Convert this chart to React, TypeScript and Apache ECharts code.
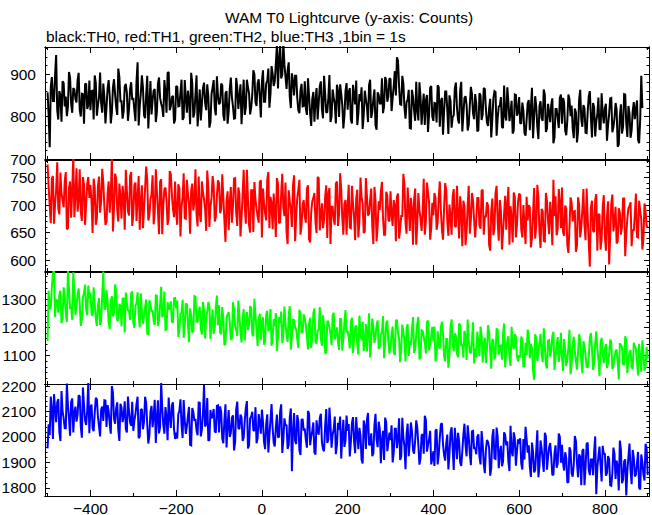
import React, { useEffect, useRef } from "react";
import * as echarts from "echarts";

const TITLE = "WAM T0 Lightcurve (y-axis: Counts)";
const SUBTITLE = "black:TH0, red:TH1, green:TH2, blue:TH3 ,1bin = 1s";

// time grid of the sampled light curves (seconds from T0): values on whole
// 5 s steps and values read half-way between them (2.5 s later)
const T_START = -500;
const BIN = 5;
const X_MIN = -506;
const X_MAX = 903;
const X_MAJOR = [-400, -200, 0, 200, 400, 600, 800];
const X_MINOR = [-500, -300, -100, 100, 300, 500, 700, 900];

const TH0 = [
  857, 728, 893, 837, 945, 793, 850, 883, 824, 801, 905, 830, 867, 842, 886, 816, 854, 783, 878, 827,
  815, 861, 897, 802, 845, 831, 878, 784, 866, 849, 809, 888, 823, 913, 836, 795, 871, 856, 818, 881,
  844, 789, 928, 824, 897, 803, 850, 772, 884, 838, 865, 810, 892, 831, 799, 858, 903, 815, 846, 784,
  872, 824, 858, 792, 886, 809, 839, 903, 798, 852, 777, 864, 830, 880, 815, 848, 787, 869, 820, 895,
  829, 878, 804, 855, 783, 864, 846, 795, 891, 818, 876, 838, 804, 887, 855, 821, 909, 834, 878, 847,
  882, 835, 878, 913, 853, 901, 883, 968, 937, 890, 975, 894, 909, 847, 902, 850, 896, 815, 862, 824,
  883, 804, 849, 778, 858, 838, 793, 871, 817, 896, 809, 844, 787, 864, 830, 875, 799, 854, 772, 860,
  816, 867, 784, 850, 885, 807, 836, 771, 861, 823, 874, 797, 842, 780, 857, 831, 890, 824, 885, 847,
  888, 844, 907, 940, 870, 828, 878, 795, 840, 773, 863, 814, 882, 791, 846, 823, 780, 851, 806, 872,
  790, 831, 874, 776, 844, 812, 859, 759, 837, 799, 866, 822, 784, 882, 805, 848, 767, 827, 853, 794,
  831, 768, 850, 805, 865, 786, 819, 751, 843, 858, 796, 825, 776, 873, 791, 835, 809, 760, 852, 802,
  846, 783, 814, 755, 831, 768, 868, 801, 823, 747, 836, 790, 852, 772, 810, 829, 737, 818, 796, 844,
  783, 834, 756, 852, 801, 772, 819, 739, 840, 794, 827, 762, 812, 860, 751, 822, 789, 845, 769, 808,
  820, 743, 806, 844, 775, 832, 729, 801, 760, 853, 783, 825, 750, 813, 794, 838, 737, 896,
];
const TH0_HALF = [
  804, 871, 837, 898, 815, 860, 788, 879, 847, 823, 892, 809, 864, 833, 903, 800, 853, 876, 818, 885,
  860, 793, 879, 827, 904, 809, 847, 822, 886, 784, 869, 853, 804, 893, 836, 813, 877, 790, 865, 839,
  815, 883, 779, 854, 869, 796, 896, 830, 805, 861, 787, 878, 844, 821, 886, 809, 905, 824, 849, 793,
  870, 825, 887, 798, 844, 861, 782, 879, 809, 897, 820, 791, 867, 832, 876, 774, 853, 886, 803, 849,
  833, 874, 790, 860, 812, 892, 824, 796, 869, 847, 782, 887, 821, 869, 805, 851, 900, 825, 888, 798,
  909, 835, 884, 821, 919, 872, 925, 866, 969, 899, 923, 865, 928, 820, 885, 896, 844, 808, 877, 825,
  819, 890, 806, 841, 788, 867, 832, 883, 796, 854, 811, 898, 800, 845, 784, 861, 876, 827, 802, 879,
  858, 793, 875, 829, 780, 853, 869, 803, 842, 787, 887, 811, 864, 769, 851, 831, 808, 893, 835, 890,
  813, 872, 850, 931, 829, 896, 821, 834, 863, 772, 846, 790, 815, 881, 781, 854, 839, 764, 868, 800,
  832, 786, 869, 836, 757, 859, 815, 850, 774, 803, 880, 792, 862, 765, 844, 827, 781, 870, 808, 853,
  765, 855, 792, 867, 818, 778, 842, 794, 860, 755, 824, 846, 773, 801, 869, 789, 837, 767, 851, 810,
  785, 833, 761, 792, 839, 822, 749, 848, 775, 825, 796, 864, 764, 830, 787, 843, 751, 818, 773, 852,
  844, 767, 792, 841, 826, 749, 810, 765, 863, 776, 819, 761, 848, 797, 832, 753, 806, 771, 855, 784,
  830, 780, 843, 763, 796, 816, 734, 829, 776, 852, 752, 807, 768, 834, 818, 745, 794, 820,
];

const TH1 = [
  774, 699, 748, 666, 727, 694, 759, 709, 743, 656, 731, 677, 790, 718, 688, 765, 671, 737, 703, 751,
  737, 649, 731, 676, 752, 707, 741, 664, 721, 686, 788, 694, 748, 670, 715, 735, 655, 726, 681, 760,
  682, 741, 715, 655, 736, 693, 770, 672, 710, 754, 687, 725, 647, 747, 700, 732, 664, 762, 719, 678,
  687, 738, 643, 714, 676, 746, 702, 727, 690, 765, 661, 684, 743, 710, 653, 732, 697, 753, 670, 717,
  740, 692, 714, 633, 725, 706, 668, 748, 686, 732, 643, 719, 697, 764, 664, 727, 651, 710, 679, 742,
  641, 703, 672, 760, 715, 656, 688, 749, 667, 722, 695, 741, 629, 707, 660, 754, 681, 728, 646, 701,
  680, 730, 638, 687, 713, 669, 751, 654, 703, 674, 736, 721, 629, 697, 664, 743, 683, 728, 646, 709,
  698, 659, 735, 679, 712, 641, 750, 702, 652, 717, 684, 730, 629, 709, 662, 691, 742, 646, 724, 673,
  725, 662, 700, 715, 639, 680, 757, 667, 732, 653, 693, 710, 628, 722, 675, 689, 646, 741, 705, 659,
  681, 712, 668, 743, 655, 695, 727, 644, 678, 716, 662, 735, 639, 690, 708, 627, 699, 648, 722, 673,
  670, 713, 657, 728, 679, 705, 628, 690, 645, 722, 671, 709, 619, 684, 655, 733, 698, 632, 715, 664,
  721, 655, 700, 629, 672, 695, 640, 731, 663, 712, 622, 689, 634, 707, 647, 682, 746, 716, 656, 704,
  732, 644, 693, 613, 714, 670, 689, 626, 701, 659, 729, 636, 677, 588, 708, 651, 720, 682, 619, 696,
  643, 679, 592, 703, 652, 697, 634, 686, 661, 712, 647, 694, 705, 655, 683, 642, 708, 675, 637, 689,
  660,
];
const TH1_HALF = [
  734, 667, 753, 701, 778, 683, 721, 696, 760, 658, 743, 727, 678, 767, 710, 687, 751, 664, 739, 713,
  707, 748, 664, 734, 686, 766, 698, 670, 743, 721, 652, 757, 691, 739, 675, 715, 764, 689, 752, 662,
  736, 671, 753, 707, 658, 731, 747, 681, 720, 665, 765, 689, 742, 647, 729, 709, 676, 756, 693, 743,
  664, 731, 697, 758, 675, 720, 648, 739, 707, 683, 752, 669, 724, 693, 763, 660, 713, 736, 678, 745,
  685, 756, 672, 707, 654, 733, 698, 749, 662, 720, 677, 764, 666, 711, 650, 727, 742, 693, 668, 745,
  730, 685, 747, 658, 704, 721, 642, 739, 669, 757, 680, 651, 727, 692, 736, 634, 713, 746, 663, 709,
  668, 736, 632, 707, 722, 649, 749, 683, 658, 714, 640, 731, 697, 674, 739, 662, 758, 677, 702, 646,
  737, 658, 703, 636, 728, 672, 715, 649, 749, 681, 710, 660, 733, 634, 707, 724, 677, 646, 718, 670,
  683, 709, 634, 721, 657, 680, 737, 648, 697, 713, 628, 730, 666, 691, 653, 748, 671, 723, 637, 704,
  722, 655, 713, 690, 637, 740, 670, 701, 646, 729, 660, 684, 716, 625, 697, 652, 735, 674, 708, 641,
  713, 663, 726, 646, 679, 699, 617, 712, 659, 735, 635, 690, 651, 717, 701, 628, 677, 723, 641, 706,
  718, 641, 666, 715, 700, 623, 684, 639, 737, 650, 693, 635, 722, 671, 706, 627, 680, 645, 729, 658,
  651, 699, 627, 658, 705, 688, 615, 714, 641, 691, 662, 730, 630, 696, 653, 709, 617, 684, 639, 718,
  617, 707, 644, 719, 670, 630, 694, 646, 712, 607, 676, 698, 625, 653, 721, 641, 689, 619, 703, 662,
];

const TH2 = [
  1152, 1264, 1342, 1410, 1297, 1252, 1330, 1235, 1307, 1219, 1336, 1273, 1395, 1243, 1314, 1284, 1228, 1321, 1262, 1348,
  1323, 1241, 1282, 1205, 1304, 1222, 1398, 1265, 1293, 1195, 1310, 1250, 1331, 1227, 1277, 1301, 1182, 1287, 1258, 1321,
  1217, 1277, 1324, 1200, 1256, 1238, 1299, 1177, 1283, 1261, 1209, 1312, 1227, 1344, 1244, 1191, 1290, 1270, 1221, 1303,
  1267, 1166, 1248, 1298, 1208, 1282, 1148, 1242, 1188, 1309, 1218, 1273, 1175, 1257, 1233, 1290, 1159, 1263, 1199, 1313,
  1278, 1176, 1234, 1142, 1246, 1220, 1161, 1263, 1193, 1295, 1182, 1228, 1154, 1254, 1209, 1268, 1169, 1241, 1134, 1249,
  1221, 1139, 1246, 1187, 1265, 1162, 1205, 1117, 1236, 1256, 1175, 1213, 1149, 1275, 1169, 1226, 1192, 1128, 1248, 1183,
  1232, 1169, 1213, 1127, 1250, 1150, 1189, 1272, 1135, 1206, 1108, 1221, 1177, 1242, 1157, 1200, 1121, 1228, 1164, 1261,
  1188, 1126, 1234, 1162, 1207, 1104, 1179, 1221, 1145, 1115, 1250, 1152, 1201, 1168, 1225, 1134, 1184, 1091, 1215, 1149,
  1137, 1203, 1102, 1227, 1160, 1123, 1184, 1080, 1211, 1151, 1194, 1110, 1175, 1237, 1095, 1188, 1145, 1218, 1119, 1169,
  1151, 1080, 1186, 1125, 1220, 1098, 1159, 1058, 1203, 1143, 1179, 1107, 1214, 1134, 1093, 1169, 1228, 1113, 1154, 1073,
  1094, 1147, 1203, 1076, 1164, 1123, 1184, 1054, 1155, 1106, 1193, 1136, 1086, 1214, 1113, 1169, 1064, 1142, 1176, 1099,
  1102, 1168, 1060, 1146, 1192, 1090, 1128, 1015, 1160, 1111, 1177, 1077, 1136, 1055, 1155, 1121, 1185, 1093, 1166, 1110,
  1095, 1159, 1063, 1129, 1035, 1141, 1117, 1051, 1176, 1081, 1151, 1102, 1058, 1166, 1124, 1072, 1186, 1089, 1146, 1106,
  1124, 1056, 1105, 1148, 1062, 1116, 1079, 1144, 1130, 1069, 1154, 1087, 1120, 1052, 1134, 1075, 1142, 1043, 1111, 1064,
  1090,
];
const TH2_HALF = [
  1330, 1271, 1390, 1236, 1296, 1318, 1215, 1342, 1251, 1405, 1265, 1227, 1326, 1280, 1338, 1205, 1308, 1351, 1243, 1303,
  1249, 1342, 1232, 1278, 1209, 1312, 1266, 1332, 1219, 1295, 1239, 1352, 1224, 1283, 1204, 1304, 1323, 1260, 1227, 1327,
  1199, 1286, 1242, 1321, 1213, 1272, 1178, 1296, 1255, 1223, 1313, 1205, 1277, 1236, 1327, 1193, 1262, 1292, 1217, 1304,
  1295, 1192, 1251, 1164, 1283, 1211, 1267, 1181, 1311, 1222, 1260, 1195, 1290, 1161, 1256, 1278, 1217, 1177, 1270, 1208,
  1183, 1272, 1137, 1234, 1254, 1159, 1289, 1203, 1170, 1243, 1147, 1265, 1221, 1191, 1276, 1176, 1301, 1195, 1228, 1155,
  1236, 1152, 1259, 1199, 1135, 1230, 1251, 1165, 1216, 1144, 1274, 1175, 1244, 1121, 1227, 1201, 1158, 1262, 1180, 1246,
  1209, 1122, 1234, 1166, 1267, 1143, 1193, 1160, 1243, 1111, 1221, 1200, 1137, 1252, 1178, 1148, 1232, 1118, 1216, 1182,
  1165, 1219, 1110, 1201, 1138, 1242, 1154, 1117, 1212, 1184, 1094, 1231, 1145, 1207, 1124, 1176, 1240, 1142, 1224, 1107,
  1175, 1115, 1223, 1180, 1077, 1210, 1152, 1198, 1099, 1137, 1237, 1123, 1214, 1087, 1190, 1168, 1108, 1224, 1143, 1202,
  1203, 1103, 1136, 1199, 1180, 1080, 1159, 1100, 1228, 1115, 1171, 1095, 1208, 1142, 1188, 1085, 1154, 1108, 1218, 1125,
  1185, 1098, 1173, 1143, 1074, 1208, 1117, 1158, 1086, 1194, 1104, 1136, 1177, 1059, 1153, 1094, 1202, 1123, 1167, 1080,
  1094, 1156, 1063, 1103, 1164, 1142, 1047, 1176, 1081, 1146, 1108, 1197, 1067, 1153, 1097, 1169, 1050, 1137, 1078, 1181,
  1046, 1119, 1086, 1192, 1067, 1167, 1082, 1112, 1156, 1038, 1134, 1061, 1094, 1180, 1050, 1145, 1125, 1028, 1163, 1074,
  1141, 1075, 1157, 1053, 1096, 1122, 1016, 1139, 1070, 1169, 1039, 1111, 1060, 1146, 1125, 1030, 1094, 1154, 1047, 1131,
];

const TH3 = [
  1955, 2007, 2108, 2168, 2058, 2149, 1984, 2100, 2034, 2210, 2071, 2138, 2018, 2119, 2088, 2159, 1997, 2125, 2047, 2215,
  2117, 2034, 2095, 2148, 2042, 2108, 2063, 2143, 2125, 2050, 2200, 2072, 2112, 2029, 2130, 2058, 2140, 2018, 2101, 2044,
  2024, 2090, 2158, 2002, 2110, 2059, 2134, 1974, 2099, 2038, 2146, 2075, 2014, 2212, 2048, 2117, 1987, 2083, 2125, 2030,
  2017, 2090, 2148, 1996, 2065, 2042, 2118, 1967, 2098, 2071, 2007, 2134, 2030, 2205, 2050, 1985, 2106, 2082, 2022, 2122,
  2018, 2099, 1975, 2128, 2047, 2000, 2075, 1947, 2109, 2035, 2088, 1984, 2064, 2141, 1967, 2080, 2027, 2117, 1995, 2058,
  2107, 1980, 2052, 1939, 2067, 2035, 1963, 2088, 2001, 2128, 1988, 2044, 1953, 2076, 1865, 2094, 1972, 2060, 1929, 2070,
  2033, 1958, 2091, 2001, 2057, 1931, 2022, 2075, 1980, 1944, 2110, 1990, 2049, 2009, 2080, 1968, 2028, 1915, 2067, 1985,
  2024, 1923, 2054, 1982, 2078, 1952, 2004, 1896, 2043, 2067, 1968, 2014, 1936, 2091, 1960, 2030, 1988, 1910, 2057, 1977,
  1988, 1900, 2032, 1956, 2073, 1923, 1998, 1873, 2052, 1979, 2022, 1934, 2065, 1968, 1916, 2011, 2083, 1942, 1992, 1892,
  1944, 2025, 1892, 1998, 2054, 1929, 1976, 1872, 2016, 1955, 2036, 1913, 1985, 1886, 2009, 1968, 2046, 1932, 2022, 1953,
  1932, 2010, 1892, 1973, 1858, 1988, 1959, 1877, 2031, 1914, 2000, 1940, 1885, 2018, 1967, 1903, 2044, 1924, 1994, 1944,
  1973, 1896, 1992, 2040, 1938, 1882, 1978, 1861, 1949, 1842, 1986, 1907, 2016, 1871, 1959, 1922, 1853, 1967, 1895, 2000,
  1969, 1868, 1917, 1823, 1945, 1844, 2004, 1897, 1932, 1810, 1953, 1879, 1978, 1850, 1911, 1941, 1775, 1924, 1889, 1965,
  1936, 1859, 1914, 1808, 1958, 1835, 1883, 1986, 1818, 1904, 1770, 1923, 1869, 1949, 1845, 1898, 1800, 1931, 1853, 1973,
  1850,
];
const TH3_HALF = [
  2050, 2159, 1992, 2112, 2136, 2020, 2180, 2074, 2034, 2124, 2005, 2151, 2096, 2060, 2164, 2040, 2194, 2064, 2104, 2015,
  2127, 2023, 2154, 2080, 2002, 2119, 2144, 2039, 2101, 2013, 2173, 2052, 2136, 1984, 2116, 2084, 2031, 2159, 2058, 2138,
  2064, 2130, 1995, 2107, 2030, 2158, 2050, 2005, 2122, 2086, 1976, 2144, 2038, 2115, 2013, 2077, 2155, 2035, 2136, 1992,
  1994, 2102, 2047, 2145, 2012, 2084, 1969, 2114, 2063, 2025, 2135, 2002, 2090, 2041, 2153, 1988, 2073, 2110, 2017, 2124,
  2120, 1994, 2066, 1959, 2106, 2016, 2085, 1979, 2139, 2031, 2077, 1997, 2114, 1955, 2072, 2099, 2024, 1975, 2090, 2013,
  2059, 1952, 2089, 2006, 2129, 1977, 2038, 1998, 2100, 1937, 2073, 2048, 1969, 2112, 2020, 1984, 2086, 1947, 2067, 2025,
  1988, 2102, 1968, 2024, 1939, 2065, 2009, 2091, 1952, 2044, 1976, 2115, 1958, 2030, 1932, 2056, 2080, 2001, 1961, 2084,
  2051, 1979, 2078, 1936, 2009, 2036, 1910, 2065, 1953, 2094, 1971, 1924, 2046, 1990, 2060, 1897, 2024, 2076, 1944, 2017,
  2046, 1939, 2032, 1995, 1910, 2075, 1963, 2012, 1924, 2057, 1947, 1985, 2036, 1891, 2006, 1934, 2067, 1969, 2024, 1916,
  1886, 2030, 1929, 2049, 1971, 1907, 2009, 1932, 2038, 1870, 1980, 2016, 1899, 1944, 2052, 1924, 2001, 1889, 2024, 1958,
  2002, 1922, 2023, 1895, 1948, 1980, 1848, 2000, 1916, 2037, 1877, 1965, 1903, 2008, 1983, 1866, 1944, 2018, 1887, 1991,
  1995, 1872, 1912, 1991, 1967, 1843, 1941, 1869, 2026, 1887, 1955, 1863, 2002, 1920, 1976, 1850, 1935, 1879, 2013, 1899,
  1898, 1940, 1820, 1959, 1857, 1893, 1985, 1842, 1921, 1946, 1810, 1973, 1871, 1911, 1850, 2002, 1879, 1962, 1825, 1932,
  1848, 1925, 1810, 1859, 1934, 1907, 1790, 1949, 1832, 1912, 1866, 1974, 1814, 1920, 1851, 1941, 1794, 1901, 1829, 1955,
];

// y-axis ranges and tick values per panel
const Y_RANGES = [
  [700, 964],
  [580, 782],
  [1000, 1396],
  [1768, 2208],
];
const Y_MAJOR = [
  [700, 800, 900],
  [600, 650, 700, 750],
  [1100, 1200, 1300],
  [1800, 1900, 2000, 2100, 2200],
];
const Y_MINOR = [
  [720, 740, 760, 780, 820, 840, 860, 880, 920, 940, 960],
  [590, 610, 620, 630, 640, 660, 670, 680, 690, 710, 720, 730, 740, 760, 770, 780],
  [1020, 1040, 1060, 1080, 1120, 1140, 1160, 1180, 1220, 1240, 1260, 1280, 1320, 1340, 1360, 1380],
  [1780, 1820, 1840, 1860, 1880, 1920, 1940, 1960, 1980, 2020, 2040, 2060, 2080, 2120, 2140, 2160, 2180],
];
const SERIES_MAIN = [TH0, TH1, TH2, TH3];
const SERIES_HALF = [TH0_HALF, TH1_HALF, TH2_HALF, TH3_HALF];
const SERIES_NAMES = ["TH0", "TH1", "TH2", "TH3"];
const COLORS = ["#000000", "#ff0000", "#00ff00", "#0000ff"];

// layout (pixels)
const PANEL_TOPS = [47, 160, 272, 384];
const PANEL_HEIGHTS = [112, 111, 112, 112];
const FONT = "'Liberation Sans', Arial, Helvetica, sans-serif";
const FONT_SIZE = 15.5;

function buildPoints(main: number[], half: number[]) {
  const pts: number[][] = [];
  main.forEach((v, k) => {
    const t = T_START + k * BIN;
    pts.push([t, v]);
    if (k < half.length) pts.push([t + BIN / 2, half[k]]);
  });
  return pts;
}

export default function App() {
  const ref = useRef<HTMLDivElement>(null);

  useEffect(() => {
    document.body.style.margin = "0";
    if (!ref.current) return;
    const chart = echarts.init(ref.current, undefined, { renderer: "svg" });

    const grids: any[] = [];
    const xAxes: any[] = [];
    const yAxes: any[] = [];
    const series: any[] = [];

    const lineStyle = { color: "#000", width: 1 };
    const labelStyle = { color: "#000", fontSize: FONT_SIZE, fontFamily: FONT };

    for (let i = 0; i < 4; i++) {
      grids.push({
        left: 45,
        right: 3,
        top: PANEL_TOPS[i],
        height: PANEL_HEIGHTS[i],
        containLabel: false,
        outerBoundsMode: "none",
      });

      const xBase = {
        type: "value",
        gridIndex: i,
        min: X_MIN,
        max: X_MAX,
        splitLine: { show: false },
        minorTick: { show: false },
        axisLine: { show: true, onZero: false, lineStyle },
      };
      const xTick = (vals: number[], len: number) => ({
        show: true,
        inside: true,
        length: len,
        customValues: vals,
        lineStyle,
      });
      xAxes.push({
        ...xBase,
        position: "bottom",
        axisTick: xTick(X_MAJOR, 6),
        axisLabel: {
          show: i === 3,
          customValues: X_MAJOR,
          margin: 4,
          ...labelStyle,
          formatter: (v: number) => String(v).replace("-", "\u2212"),
        },
      });
      xAxes.push({ ...xBase, position: "bottom", axisTick: xTick(X_MINOR, 3), axisLabel: { show: false } });
      xAxes.push({ ...xBase, position: "top", axisTick: xTick(X_MAJOR, 6), axisLabel: { show: false } });
      xAxes.push({ ...xBase, position: "top", axisTick: xTick(X_MINOR, 3), axisLabel: { show: false } });

      const yBase = {
        type: "value",
        gridIndex: i,
        min: Y_RANGES[i][0],
        max: Y_RANGES[i][1],
        splitLine: { show: false },
        minorTick: { show: false },
        axisLine: { show: true, onZero: false, lineStyle },
      };
      const yTick = (vals: number[], len: number) => ({
        show: true,
        inside: true,
        length: len,
        customValues: vals,
        lineStyle,
      });
      yAxes.push({
        ...yBase,
        position: "left",
        axisTick: yTick(Y_MAJOR[i], 5),
        axisLabel: {
          show: true,
          customValues: Y_MAJOR[i],
          margin: 9,
          ...labelStyle,
          formatter: (v: number) => String(v),
        },
      });
      yAxes.push({ ...yBase, position: "left", axisTick: yTick(Y_MINOR[i], 2.5), axisLabel: { show: false } });
      yAxes.push({ ...yBase, position: "right", axisTick: yTick(Y_MAJOR[i], 5), axisLabel: { show: false } });
      yAxes.push({ ...yBase, position: "right", axisTick: yTick(Y_MINOR[i], 2.5), axisLabel: { show: false } });

      series.push({
        name: SERIES_NAMES[i],
        type: "line",
        xAxisIndex: i * 4,
        yAxisIndex: i * 4,
        data: buildPoints(SERIES_MAIN[i], SERIES_HALF[i]),
        symbol: "none",
        showSymbol: false,
        silent: true,
        clip: true,
        lineStyle: { color: COLORS[i], width: 2, join: "miter", miterLimit: 2 },
        itemStyle: { color: COLORS[i] },
      });
    }

    chart.setOption({
      animation: false,
      backgroundColor: "#ffffff",
      grid: grids,
      xAxis: xAxes,
      yAxis: yAxes,
      series,
      graphic: [
        {
          type: "text",
          x: 349,
          y: 9,
          style: {
            text: TITLE,
            fill: "#000",
            fontSize: FONT_SIZE,
            fontFamily: FONT,
            textAlign: "center",
            textVerticalAlign: "top",
          },
        },
        {
          type: "text",
          x: 46,
          y: 28,
          style: {
            text: SUBTITLE,
            fill: "#000",
            fontSize: FONT_SIZE,
            fontFamily: FONT,
            textAlign: "left",
            textVerticalAlign: "top",
          },
        },
      ],
    });

    return () => {
      chart.dispose();
    };
  }, []);

  return <div ref={ref} style={{ width: 652, height: 515 }} />;
}
